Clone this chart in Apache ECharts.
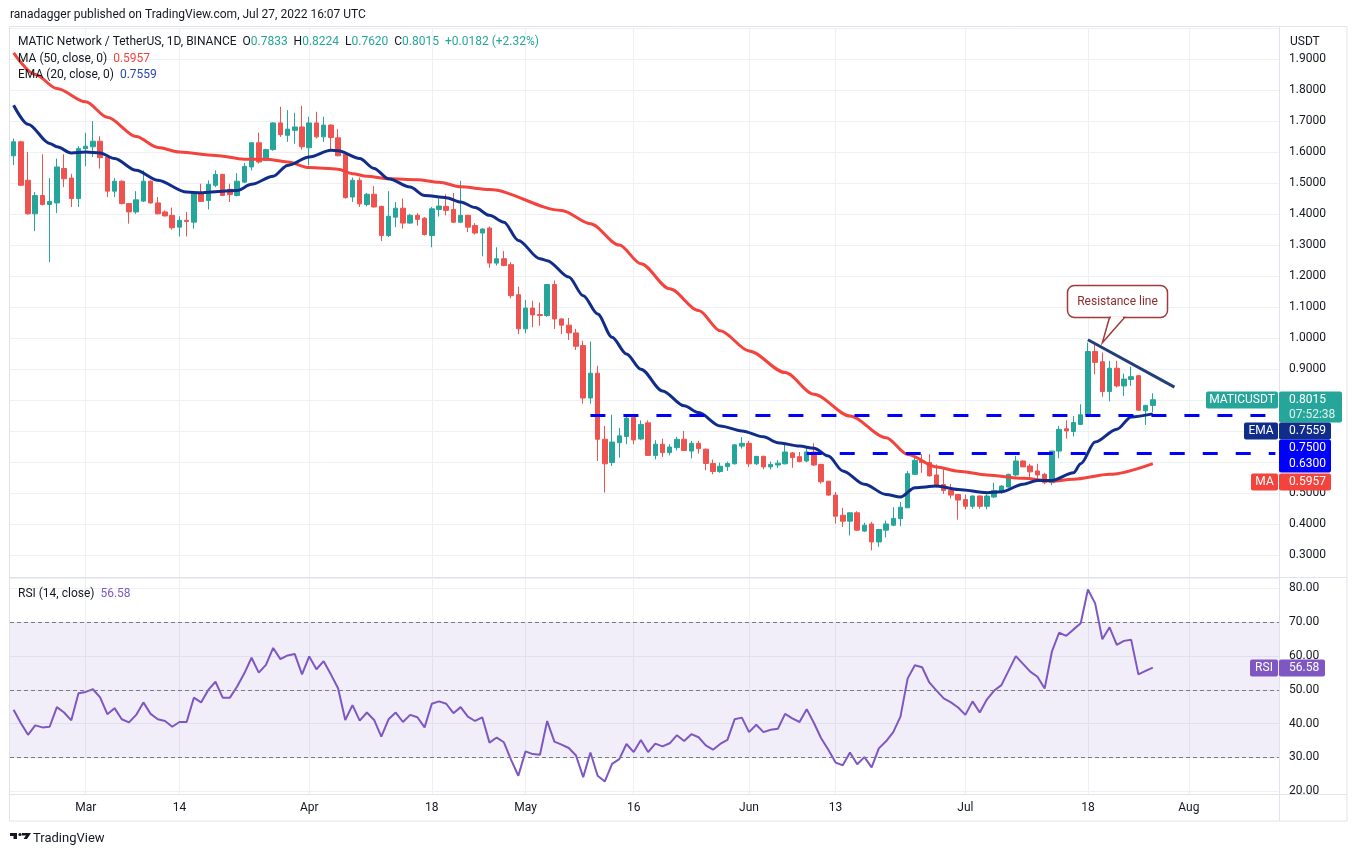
<!DOCTYPE html>
<html>
<head>
    <meta charset="utf-8" />
    <title>MATICUSDT 1D</title>
    <script src="https://cdn.jsdelivr.net/npm/echarts@6/dist/echarts.min.js"></script>
    <style>
        html, body { margin: 0; padding: 0; background: #fff; }
        #main { width: 1357px; height: 857px; }
    </style>
</head>
<body>
    <div id="main"></div>

    <script type="text/javascript">
        // daily candles, 2022-02-19 .. 2022-07-27
        var opens = [1.588,1.633,1.509,1.401,1.460,1.431,1.436,1.547,1.516,1.450,
            1.611,1.617,1.635,1.584,1.474,1.506,1.434,1.407,1.442,1.506,
            1.436,1.407,1.396,1.358,1.380,1.374,1.466,1.444,1.493,1.528,
            1.480,1.460,1.503,1.552,1.630,1.574,1.608,1.694,1.654,1.670,
            1.681,1.614,1.694,1.649,1.687,1.646,1.593,1.455,1.509,1.431,
            1.464,1.425,1.331,1.390,1.419,1.371,1.396,1.387,1.331,1.415,
            1.425,1.415,1.374,1.396,1.363,1.339,1.355,1.242,1.256,1.237,
            1.140,1.030,1.097,1.076,1.073,1.173,1.062,1.042,1.017,0.976,
            0.807,0.887,0.674,0.599,0.663,0.683,0.744,0.675,0.727,0.622,
            0.658,0.631,0.647,0.674,0.636,0.661,0.642,0.596,0.570,0.586,
            0.595,0.652,0.661,0.595,0.619,0.585,0.591,0.595,0.630,0.618,
            0.604,0.633,0.593,0.539,0.494,0.429,0.410,0.437,0.378,0.401,
            0.343,0.381,0.397,0.418,0.453,0.561,0.604,0.599,0.559,0.528,
            0.509,0.496,0.480,0.458,0.491,0.458,0.488,0.505,0.520,0.559,
            0.604,0.588,0.572,0.561,0.534,0.636,0.708,0.699,0.722,0.753,
            0.957,0.924,0.828,0.903,0.846,0.867,0.879,0.766,0.7833];
        var closes = [1.633,1.493,1.401,1.460,1.431,1.441,1.552,1.514,1.450,1.611,
            1.619,1.635,1.582,1.474,1.506,1.434,1.407,1.446,1.506,1.436,
            1.401,1.394,1.356,1.380,1.376,1.468,1.441,1.496,1.528,1.460,
            1.463,1.506,1.554,1.630,1.568,1.608,1.694,1.656,1.674,1.681,
            1.617,1.694,1.649,1.687,1.647,1.588,1.453,1.509,1.433,1.464,
            1.423,1.331,1.393,1.419,1.371,1.396,1.383,1.334,1.417,1.426,
            1.412,1.374,1.396,1.358,1.339,1.352,1.242,1.256,1.234,1.137,
            1.030,1.097,1.075,1.073,1.173,1.062,1.042,1.017,0.974,0.807,
            0.887,0.674,0.595,0.665,0.685,0.742,0.672,0.722,0.622,0.658,
            0.631,0.649,0.674,0.638,0.661,0.644,0.596,0.570,0.587,0.596,
            0.656,0.661,0.595,0.619,0.585,0.593,0.597,0.633,0.615,0.602,
            0.633,0.591,0.537,0.494,0.426,0.410,0.437,0.381,0.397,0.343,
            0.383,0.401,0.419,0.455,0.563,0.606,0.599,0.556,0.526,0.509,
            0.494,0.478,0.458,0.491,0.458,0.491,0.509,0.523,0.561,0.604,
            0.585,0.569,0.559,0.534,0.636,0.706,0.701,0.728,0.753,0.957,
            0.922,0.828,0.903,0.846,0.868,0.876,0.768,0.7833,0.8015];
        var lows = [1.558,1.490,1.398,1.345,1.428,1.245,1.403,1.487,1.423,1.423,
            1.555,1.584,1.547,1.455,1.455,1.431,1.369,1.401,1.439,1.434,
            1.399,1.393,1.350,1.328,1.328,1.353,1.439,1.415,1.487,1.458,
            1.439,1.457,1.500,1.541,1.563,1.571,1.604,1.649,1.633,1.627,
            1.608,1.557,1.644,1.633,1.606,1.586,1.450,1.439,1.423,1.425,
            1.421,1.313,1.326,1.358,1.353,1.369,1.363,1.331,1.293,1.392,
            1.396,1.371,1.371,1.342,1.334,1.264,1.227,1.234,1.232,1.129,
            1.013,1.016,1.035,1.040,1.069,1.030,1.013,0.994,0.962,0.789,
            0.789,0.604,0.502,0.588,0.615,0.658,0.658,0.671,0.620,0.609,
            0.617,0.622,0.638,0.636,0.612,0.628,0.574,0.561,0.566,0.572,
            0.593,0.644,0.585,0.591,0.577,0.577,0.582,0.593,0.582,0.600,
            0.600,0.588,0.531,0.492,0.402,0.391,0.364,0.378,0.375,0.316,
            0.327,0.358,0.394,0.394,0.453,0.559,0.566,0.554,0.518,0.498,
            0.483,0.415,0.448,0.450,0.450,0.448,0.485,0.498,0.518,0.555,
            0.585,0.550,0.539,0.529,0.526,0.613,0.676,0.683,0.720,0.746,
            0.884,0.811,0.796,0.841,0.814,0.846,0.766,0.720,0.7620];
        var highs = [1.644,1.636,1.600,1.471,1.593,1.516,1.579,1.593,1.530,1.619,
            1.662,1.700,1.651,1.586,1.516,1.509,1.436,1.474,1.541,1.509,
            1.455,1.412,1.421,1.393,1.407,1.470,1.498,1.509,1.541,1.530,
            1.498,1.532,1.565,1.632,1.663,1.611,1.696,1.746,1.735,1.727,
            1.749,1.714,1.730,1.714,1.689,1.674,1.595,1.518,1.518,1.468,
            1.490,1.427,1.474,1.439,1.450,1.401,1.403,1.390,1.423,1.450,
            1.464,1.468,1.507,1.398,1.371,1.354,1.360,1.293,1.281,1.245,
            1.166,1.123,1.121,1.115,1.173,1.186,1.065,1.065,1.030,0.992,
            0.989,0.911,0.717,0.753,0.710,0.749,0.747,0.735,0.735,0.671,
            0.676,0.658,0.682,0.701,0.669,0.669,0.644,0.609,0.599,0.602,
            0.658,0.681,0.669,0.620,0.621,0.602,0.607,0.656,0.633,0.633,
            0.649,0.661,0.595,0.539,0.504,0.453,0.439,0.442,0.405,0.408,
            0.385,0.412,0.455,0.472,0.572,0.628,0.626,0.626,0.593,0.577,
            0.530,0.498,0.496,0.493,0.493,0.496,0.534,0.526,0.563,0.620,
            0.607,0.595,0.595,0.566,0.636,0.717,0.735,0.749,0.787,0.986,
            0.979,0.954,0.927,0.927,0.886,0.908,0.881,0.785,0.8224];

        // RSI(14), one value per candle
        var rsi = [44.1,40.2,36.7,39.5,38.9,39.1,44.9,43.3,41.0,49.0,
            49.4,50.2,47.8,42.8,44.6,41.3,40.4,42.6,46.3,42.9,
            41.3,40.8,39.1,40.5,40.5,47.7,46.3,50.0,52.4,47.7,
            47.7,51.0,54.9,59.5,55.1,57.4,62.4,59.1,60.2,60.6,
            54.6,59.9,56.1,58.5,54.6,50.5,41.1,45.5,40.9,43.3,
            41.1,36.2,41.3,43.3,40.5,42.6,41.9,38.9,45.9,46.6,
            45.9,43.1,44.9,42.1,40.8,41.9,34.4,35.9,34.5,29.3,
            24.6,31.8,31.0,30.8,40.8,34.7,33.8,32.8,30.6,24.2,
            31.5,24.6,22.9,28.1,29.5,34.0,31.6,35.2,31.6,34.1,
            33.3,34.2,36.6,34.9,36.9,36.0,33.6,32.3,34.0,35.2,
            41.3,41.8,37.5,39.7,37.5,38.2,38.5,42.9,41.6,40.5,
            44.3,40.2,35.7,32.3,28.5,27.7,31.5,28.0,30.1,27.1,
            32.7,34.8,37.5,42.1,53.4,57.3,56.7,52.2,49.8,47.5,
            46.3,44.8,42.6,46.6,43.3,47.2,49.8,51.4,55.7,60.0,
            57.7,55.4,53.9,50.4,61.3,66.9,66.0,67.9,69.7,79.7,
            75.6,65.0,68.5,63.3,64.5,64.8,54.6,55.6,56.58];

        // moving averages read at sample days: [day index, value]
        var ma50 = [[0,1.92],[3,1.85],[6,1.805],[10,1.762],[13,1.712],[17,1.65],[20,1.615],[23,1.600],
            [28,1.589],[32,1.577],[35,1.577],[38,1.568],[41,1.550],[45,1.545],[47,1.530],[49,1.522],
            [52,1.514],[56,1.511],[59,1.503],[62,1.488],[66,1.479],[76,1.412],[80,1.369],[84,1.300],
            [87,1.240],[91,1.159],[95,1.089],[98,1.024],[102,0.959],[107,0.889],[111,0.819],[116,0.749],
            [121,0.679],[124,0.625],[128,0.585],[131,0.571],[135,0.559],[140,0.548],[144,0.539],
            [147,0.545],[152,0.561],[158,0.5957]];
        var ema20 = [[0,1.751],[2,1.69],[5,1.628],[6,1.617],[8,1.597],[10,1.600],[12,1.597],[14,1.579],
            [17,1.541],[20,1.509],[24,1.471],[26,1.469],[29,1.474],[31,1.476],[33,1.496],[36,1.522],
            [38,1.557],[41,1.584],[44,1.606],[45,1.604],[48,1.579],[50,1.547],[52,1.514],[55,1.487],
            [57,1.460],[60,1.453],[62,1.439],[64,1.421],[66,1.396],[68,1.374],[70,1.315],[73,1.256],
            [74,1.250],[77,1.197],[79,1.137],[81,1.078],[83,1.003],[85,0.949],[87,0.900],[90,0.830],
            [93,0.782],[95,0.760],[98,0.717],[101,0.701],[104,0.682],[106,0.663],[109,0.652],[111,0.645],
            [113,0.620],[115,0.572],[118,0.529],[121,0.496],[123,0.488],[125,0.518],[128,0.523],
            [131,0.512],[135,0.502],[137,0.505],[140,0.529],[142,0.541],[144,0.541],[147,0.566],
            [148,0.595],[150,0.665],[153,0.706],[155,0.746],[158,0.7559]];

        // horizontal levels and where they start (day index)
        var levels = [0.75, 0.63];
        var levelStart = [80, 110];
        // resistance line: [day index, price] at both ends
        var resistance = [[149, 0.995], [161, 0.842]];

        var tickDates = ['2022-03-01','2022-03-14','2022-04-01','2022-04-18','2022-05-01','2022-05-16',
            '2022-06-01','2022-06-13','2022-07-01','2022-07-18','2022-08-01'];
        var tickText = ['Mar','14','Apr','18','May','16','Jun','13','Jul','18','Aug'];

        var UP = '#26a69a', DOWN = '#ef5350';
        var MA_C = '#f4433c', EMA_C = '#112d8a', RSI_C = '#7e57c2';
        var TXT = '#131722', GRIDC = '#eef0f3';
        var FONT = 'Roboto, Arial, sans-serif';

        // category axis: 176 days so the plot runs past the last candle
        var days = [];
        for (var i = 0; i < 176; i++) {
            days.push(new Date(Date.UTC(2022, 1, 19) + i * 864e5).toISOString().slice(0, 10));
        }
        var tickMap = {};
        tickDates.forEach(function (d, k) { tickMap[d] = tickText[k]; });
        var isTick = function (idx, val) { return tickMap[val] !== undefined; };

        var candles = opens.map(function (o, k) { return [o, closes[k], lows[k], highs[k]]; });

        var priceLines = [
            [{ yAxis: closes[closes.length - 1], lineStyle: { color: UP, type: [1, 2], width: 1 } },
             { yAxis: closes[closes.length - 1] }]
        ];
        levels.forEach(function (v, k) {
            priceLines.push([
                { coord: [days[levelStart[k]], v], lineStyle: { color: '#0000ff', type: [15, 18], width: 3 } },
                { coord: [days[175], v] }
            ]);
        });
        priceLines.push([
            { coord: [days[resistance[0][0]], resistance[0][1]], lineStyle: { color: '#223f78', type: 'solid', width: 3 } },
            { coord: [days[resistance[1][0]], resistance[1][1]] }
        ]);

        var myChart = echarts.init(document.getElementById('main'));

        var xBase = {
            type: 'category', data: days, boundaryGap: true,
            axisLine: { show: false }, axisTick: { show: false },
            splitLine: { show: true, interval: isTick, alignWithLabel: true, lineStyle: { color: GRIDC, width: 1 } }
        };

        function head(txt, left, top, rich) {
            return { text: txt, left: left, top: top, padding: 0,
                textStyle: { fontSize: 12, fontWeight: 'normal', color: TXT, fontFamily: FONT, lineHeight: 14, rich: rich } };
        }
        function richOf(valColor) {
            return { d: { color: TXT, fontSize: 12, fontFamily: FONT }, v: { color: valColor, fontSize: 12, fontFamily: FONT } };
        }

        var option = {
            animation: false,
            backgroundColor: '#ffffff',
            textStyle: { fontFamily: FONT },
            title: [
                head('ranadagger published on TradingView.com, Jul 27, 2022 16:07 UTC', 10, 8),
                head('{d|MATIC Network / TetherUS, 1D, BINANCE  O}{v|0.7833}{d|  H}{v|0.8224}{d|  L}{v|0.7620}{d|  C}{v|0.8015}{v|  +0.0182 (+2.32%)}',
                    18, 35, richOf(UP)),
                head('{d|MA (50, close, 0)  }{v|0.5957}', 18, 52, richOf(MA_C)),
                head('{d|EMA (20, close, 0)  }{v|0.7559}', 18, 68, richOf('#2a46b0')),
                head('{d|RSI (14, close)  }{v|56.58}', 18, 587, richOf(RSI_C)),
                head('USDT', 1290, 35),
                { text: 'TradingView', left: 33, top: 831, padding: 0,
                  textStyle: { fontSize: 13, fontWeight: 'normal', color: TXT, fontFamily: FONT, lineHeight: 15 } }
            ],
            grid: [
                { left: 10, right: 78, top: 28, height: 549, containLabel: false, outerBoundsMode: 'none' },
                { left: 10, right: 78, top: 578, height: 216, containLabel: false, outerBoundsMode: 'none' }
            ],
            xAxis: [
                Object.assign({}, xBase, { gridIndex: 0, axisLabel: { show: false } }),
                Object.assign({}, xBase, { gridIndex: 1,
                    axisLabel: { show: true, interval: isTick, margin: 8, color: TXT, fontSize: 12, fontFamily: FONT,
                        formatter: function (v) { return tickMap[v] || ''; } } })
            ],
            yAxis: [
                { gridIndex: 0, type: 'value', position: 'right', min: 0.23, max: 2.0, splitNumber: 18,
                  axisLine: { show: false }, axisTick: { show: false },
                  splitLine: { show: true, lineStyle: { color: GRIDC, width: 1 } },
                  axisLabel: { margin: 10, color: TXT, fontSize: 12, fontFamily: FONT, showMinLabel: false, showMaxLabel: false,
                      formatter: function (v) { return v.toFixed(4); } } },
                { gridIndex: 1, type: 'value', position: 'right', min: 19.2, max: 83.1, splitNumber: 6,
                  axisLine: { show: false }, axisTick: { show: false },
                  splitLine: { show: true, lineStyle: { color: GRIDC, width: 1 } },
                  axisLabel: { margin: 10, color: TXT, fontSize: 12, fontFamily: FONT, showMinLabel: false, showMaxLabel: false,
                      formatter: function (v) { return v.toFixed(2); } } }
            ],
            series: [
                {
                    name: 'MATICUSDT', type: 'candlestick', xAxisIndex: 0, yAxisIndex: 0,
                    data: candles, barWidth: 5,
                    itemStyle: { color: UP, color0: DOWN, borderColor: UP, borderColor0: DOWN, borderWidth: 1 },
                    markLine: { silent: true, symbol: ['none', 'none'], label: { show: false }, data: priceLines }
                },
                {
                    name: 'MA', type: 'line', xAxisIndex: 0, yAxisIndex: 0, data: ma50,
                    showSymbol: false, smooth: 0.3, smoothMonotone: 'x', silent: true,
                    lineStyle: { color: MA_C, width: 3 }
                },
                {
                    name: 'EMA', type: 'line', xAxisIndex: 0, yAxisIndex: 0, data: ema20,
                    showSymbol: false, smooth: 0.3, smoothMonotone: 'x', silent: true,
                    lineStyle: { color: EMA_C, width: 3 }
                },
                {
                    name: 'RSI', type: 'line', xAxisIndex: 1, yAxisIndex: 1, data: rsi,
                    showSymbol: false, silent: true,
                    lineStyle: { color: RSI_C, width: 2 },
                    markArea: { silent: true, itemStyle: { color: 'rgba(126,87,194,0.1)' },
                        data: [[{ yAxis: 30 }, { yAxis: 70 }]] },
                    markLine: { silent: true, symbol: ['none', 'none'], label: { show: false },
                        lineStyle: { color: '#787b86', type: [4, 3], width: 1 },
                        data: [{ yAxis: 70 }, { yAxis: 50 }, { yAxis: 30 }] }
                }
            ]
        };

        myChart.setOption(option);

        // tags on the price scale, stacked from the last close downwards
        var g = [];
        function box(x, y, w, h, fill, z) {
            g.push({ type: 'rect', silent: true, z: z || 50, shape: { x: x, y: y, width: w, height: h, r: 2 }, style: { fill: fill } });
        }
        function label(x, y, s, fill, align, z) {
            g.push({ type: 'text', silent: true, z: z || 60, x: x, y: y,
                style: { text: s, fill: fill || '#fff', font: '12px ' + FONT, align: align || 'left', verticalAlign: 'middle' } });
        }
        function line(x1, y1, x2, y2, c, w, z) {
            g.push({ type: 'line', silent: true, z: z || 40, shape: { x1: x1, y1: y1, x2: x2, y2: y2 },
                style: { stroke: c || '#e0e3eb', lineWidth: w || 1 } });
        }

        // frame
        g.push({ type: 'rect', silent: true, z: 40, shape: { x: 9.5, y: 26.5, width: 1337.5, height: 794.5 },
            style: { fill: 'none', stroke: '#e0e3eb', lineWidth: 1 } });
        line(1279.5, 26.5, 1279.5, 821);
        line(9.5, 577.5, 1347, 577.5);
        line(9.5, 794.5, 1347, 794.5);

        var last = closes[closes.length - 1];
        var py = Math.round(myChart.convertToPixel({ yAxisIndex: 0 }, last)) - 8.5;
        box(1206, py, 72, 17, UP); label(1242, py + 8.5, 'MATICUSDT', '#fff', 'center');
        box(1279, py, 63, 31, UP); label(1289, py + 8.5, last.toFixed(4)); label(1289, py + 23, '07:52:38', 'rgba(255,255,255,0.85)');
        var ey = py + 31;
        box(1244, ey, 34, 17, EMA_C); label(1261, ey + 8.5, 'EMA', '#fff', 'center');
        box(1279, ey, 52, 17, EMA_C); label(1289, ey + 8.5, ema20[ema20.length - 1][1].toFixed(4));
        var ly = ey + 17;
        box(1279, ly, 52, 33, '#0000ff'); label(1289, ly + 8.5, levels[0].toFixed(4)); label(1289, ly + 24.5, levels[1].toFixed(4));
        var my = ly + 34;
        box(1251, my, 27, 17, MA_C); label(1264.5, my + 8.5, 'MA', '#fff', 'center');
        box(1279, my, 52, 17, MA_C); label(1289, my + 8.5, ma50[ma50.length - 1][1].toFixed(4));

        var lastRsi = rsi[rsi.length - 1];
        var ry = Math.round(myChart.convertToPixel({ yAxisIndex: 1 }, lastRsi)) - 8.5;
        box(1250, ry, 28, 17, RSI_C); label(1264, ry + 8.5, 'RSI', '#fff', 'center');
        box(1279, ry, 46, 17, RSI_C); label(1289, ry + 8.5, lastRsi.toFixed(2));

        // callout pointing at the resistance line
        var tip = myChart.convertToPixel({ xAxisIndex: 0, yAxisIndex: 0 }, [days[151], 0.985]);
        var tx = tip[0], ty = tip[1];
        var bx = Math.round(tx - 35) + 0.5, by = Math.round(ty - 58) + 0.5, bw = 100, bh = 32;
        var CALL = '#a33a3a';
        g.push({ type: 'rect', silent: true, z: 70, shape: { x: bx, y: by, width: bw, height: bh, r: 7 },
            style: { fill: '#ffffff', stroke: CALL, lineWidth: 1.5 } });
        g.push({ type: 'polygon', silent: true, z: 71,
            shape: { points: [[bx + 42, by + bh], [tx, ty], [bx + 57, by + bh]] },
            style: { fill: '#ffffff', stroke: CALL, lineWidth: 1.5 } });
        line(bx + 43.5, by + bh, bx + 55.5, by + bh, '#ffffff', 2.5, 72);
        label(bx + bw / 2, by + bh / 2, 'Resistance line', '#8e2b2b', 'center', 73);

        // small TradingView mark
        g.push({ type: 'rect', silent: true, z: 60, shape: { x: 10, y: 833, width: 7, height: 3 }, style: { fill: TXT } });
        g.push({ type: 'rect', silent: true, z: 60, shape: { x: 13.5, y: 833, width: 3.5, height: 6 }, style: { fill: TXT } });
        g.push({ type: 'circle', silent: true, z: 60, shape: { cx: 20, cy: 834.5, r: 1.6 }, style: { fill: TXT } });
        g.push({ type: 'polygon', silent: true, z: 60,
            shape: { points: [[22, 833], [31, 833], [27, 839], [23.5, 839], [26, 835.5], [22, 835.5]] }, style: { fill: TXT } });

        myChart.setOption({ graphic: { elements: g } });
    </script>
</body>
</html>
